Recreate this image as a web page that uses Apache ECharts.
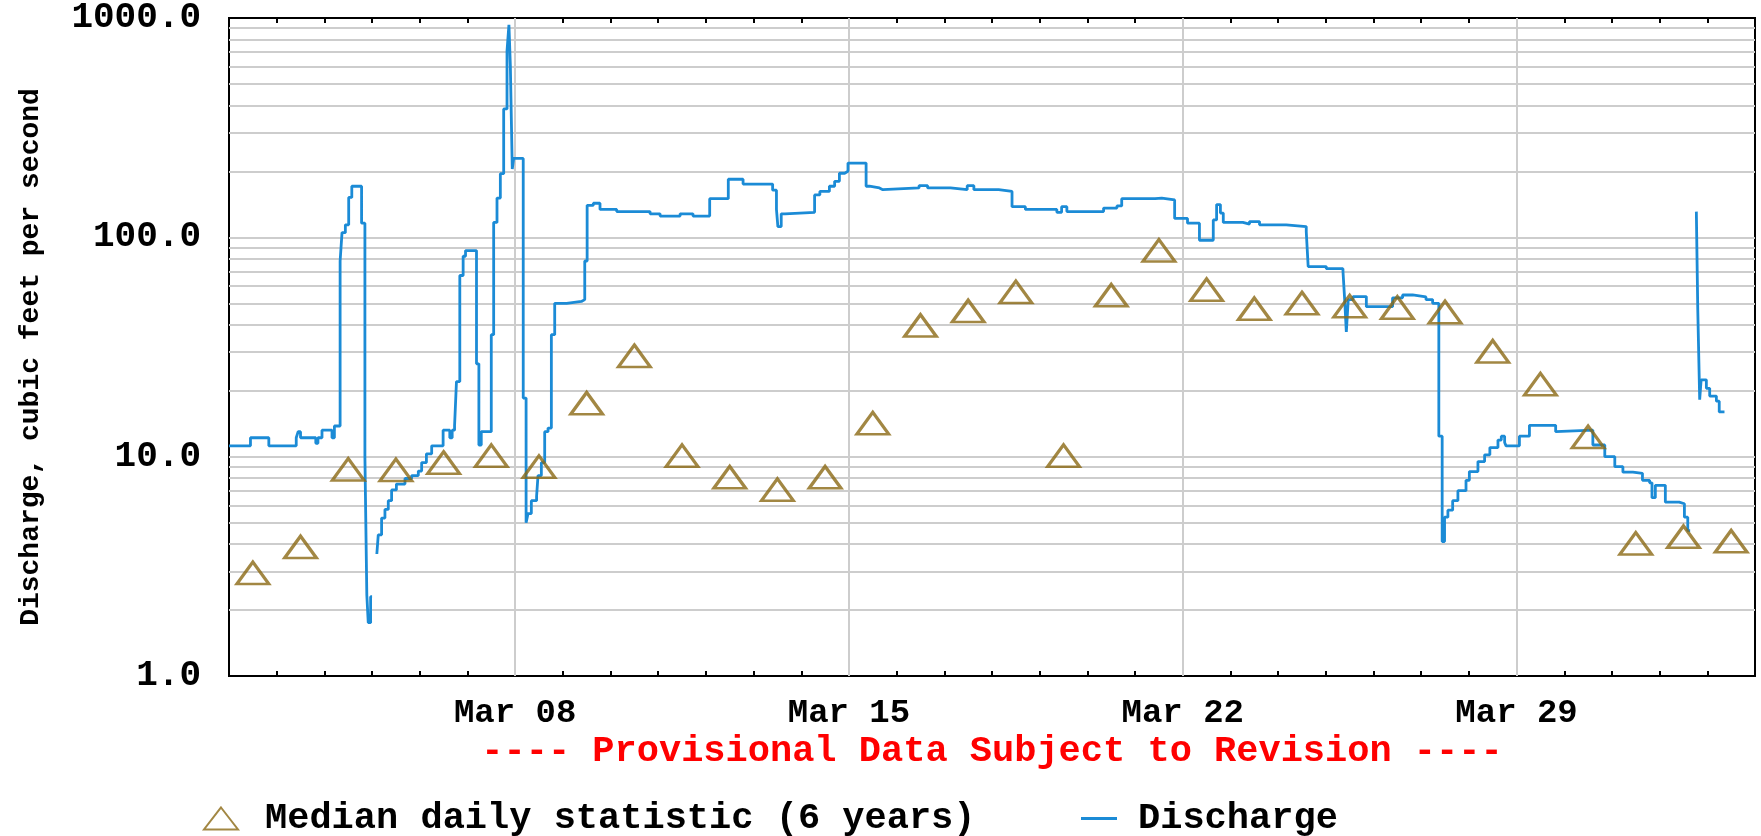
<!DOCTYPE html>
<html>
<head>
<meta charset="utf-8">
<script src="https://cdn.jsdelivr.net/npm/echarts@6/dist/echarts.min.js"></script>
<style>
  html, body { margin: 0; padding: 0; background: #fff; }
  #chart { width: 1761px; height: 836px; }
</style>
</head>
<body>
<div id="chart"></div>
<script>
// Days are counted from Mar 02 00:00
const xTickDays = [6, 13, 20, 27];
const xTickLabels = ['Mar 08', 'Mar 15', 'Mar 22', 'Mar 29'];
const yGridValues = [2,3,4,5,6,7,8,9,10,20,30,40,50,60,70,80,90,100,200,300,400,500,600,700,800,900];

// Median daily statistic (6 years), one per day, plotted at noon
const medianCfs = [2.95, 3.87, 8.74, 8.7, 9.39, 10.1, 9.0, 17.5, 28.8, 10.1, 8.05, 7.07, 8.05, 14.2,
  39.6, 46.1, 56.3, 10.1, 54.4, 87.1, 57.7, 47.2, 50.1, 48.5, 47.8, 45.6, 30.2, 21.4, 12.3, 4.02, 4.31, 4.11];

// Discharge (cfs), step values starting at each time
const dischargeDays = [0, 0.45, 0.835, 1.41, 1.45, 1.50, 1.82, 1.865, 1.95, 2.16, 2.21, 2.33, 2.37, 2.44, 2.51, 2.575,
  2.78, 2.85, 2.89, 2.92, 2.97, 3.0, 3.10, 3.13, 3.20, 3.27, 3.34, 3.41, 3.51, 3.69, 3.83, 3.97, 4.04, 4.14, 4.25,
  4.49, 4.63, 4.68, 4.73, 4.77, 4.84, 4.91, 4.96, 5.19, 5.24, 5.29, 5.50, 5.55, 5.62, 5.69, 5.76, 5.83, 5.87, 5.90,
  5.94, 5.97, 6.17, 6.23, 6.27, 6.34, 6.45, 6.48, 6.55, 6.62, 6.69, 6.76, 6.83, 7.08, 7.39, 7.46, 7.51, 7.64, 7.78,
  8.13, 8.83, 9.04, 9.46, 9.73, 10.08, 10.47, 10.78, 11.40, 11.48, 11.51, 11.58, 11.66, 12.28, 12.39, 12.59, 12.70,
  12.80, 12.91, 12.98, 13.36, 13.43, 13.64, 13.71, 14.47, 14.65, 15.13, 15.48, 15.62, 16.14, 16.42, 16.70, 17.36,
  17.46, 17.57, 18.34, 18.62, 18.72, 19.42, 19.56, 19.83, 20.10, 20.35, 20.64, 20.71, 20.79, 20.85, 21.26, 21.40,
  21.61, 22.17, 22.59, 22.63, 23.01, 23.36, 23.40, 23.43, 23.47, 23.57, 23.85, 24.40, 24.61, 24.82, 25.10, 25.24,
  25.37, 25.44, 25.49, 25.56, 25.66, 25.77, 25.94, 26.01, 26.19, 26.33, 26.44, 26.61, 26.68, 26.75, 26.78, 27.06,
  27.27, 27.82, 27.86, 28.60, 28.85, 29.06, 29.23, 29.44, 29.64, 29.79, 29.84, 29.91, 30.12, 30.41, 30.52, 30.59,
  30.64, 30.77, 30.80, 30.84, 30.87, 30.98, 31.05, 31.19, 31.25, 31.36];
const dischargeCfs = [11.2, 12.2, 11.2, 12.2, 13.0, 12.2, 11.5, 12.2, 13.2, 12.2, 13.8, 78, 105, 114, 152, 171,
  116, 10, 2.34, 1.75, 2.3, null, 3.6, 4.4, 5.25, 5.75, 6.3, 7.05, 7.5, 7.95, 8.2, 8.6, 9.4, 10.3, 11.2,
  13.2, 12.2, 13.2, 13.8, 22, 67, 82, 87, 26.5, 11.3, 13, 36, 117, 151, 195, 385, 708, 930, 605,
  205, 229, 18.5, 5.0, 5.5, 6.3, 6.6, 8.2, 9.4, 13, 13.5, 36, 50, 51, 52, 78, 140, 143, 134,
  131, 128, 125, 128, 125, 150, 184, 175, 164, 134, 112, 128, 130, 156, 162, 171, 180,
  196, 200, 218, 171, 168, 165, 168, 172, 168, 165, 172, 165, 162, 138, 134, 130,
  138, 131, 136, 139, 150, 151, 148, 122, 116, 97, 120, 141, 129, 117, 115, 118,
  114, 112, 106, 73.6, 72, 70, 50, 37, 52, 53.7, 48.3, 53, 54.6, 53.5, 52, 50,
  12.4, 4.1, 5.3, 5.7, 6.3, 7.0, 7.8, 8.55, 9.5, 10.2, 11, 11.9, 12.4, 11.6, 11.2, 12.4,
  13.9, 13.0, 13.2, 11.3, 10, 9.0, 8.5, 8.4, 7.8, 7.6, 6.5, 7.4, 6.2, 6.1, 5.3, 4.6,
  null, 131, 46.7, 18.2, 22.4, 20.5, 18.9, 17.9, 16, 16];

const FONT = 'Liberation Mono';
const chart = echarts.init(document.getElementById('chart'), null, { renderer: 'canvas' });

const medianData = medianCfs.map((v, i) => [i + 0.5, v]);
const dischargeData = dischargeDays.map((d, i) => [d, dischargeCfs[i]]);

const legendText = { color: '#000', fontFamily: FONT, fontWeight: 'bold', fontSize: 37 };

const option = {
  animation: false,
  backgroundColor: '#fff',
  grid: {
    left: 229, right: 6, top: 18, bottom: 160,
    show: true, borderColor: '#000', borderWidth: 2, backgroundColor: 'transparent'
  },
  xAxis: [
    {
      type: 'value', min: 0, max: 32, interval: 1, position: 'bottom',
      axisLine: { show: false },
      axisTick: { show: true, inside: true, length: 5, lineStyle: { color: '#000', width: 2 } },
      axisLabel: {
        margin: 20, color: '#000', fontFamily: FONT, fontWeight: 'bold', fontSize: 34,
        formatter: v => { const k = xTickDays.indexOf(Math.round(v)); return k >= 0 ? xTickLabels[k] : ''; }
      },
      splitLine: { show: false }
    },
    {
      type: 'value', min: 0, max: 32, interval: 1, position: 'top',
      axisLine: { show: false },
      axisTick: { show: true, inside: true, length: 5, lineStyle: { color: '#000', width: 2 } },
      axisLabel: { show: false },
      splitLine: { show: false }
    }
  ],
  yAxis: {
    type: 'log', logBase: 10, min: 1, max: 1000,
    axisLine: { show: false },
    axisTick: { show: false },
    splitLine: { show: false },
    axisLabel: {
      margin: 28, color: '#000', fontFamily: FONT, fontWeight: 'bold', fontSize: 36,
      formatter: v => Number(v).toFixed(1)
    }
  },
  legend: [
    {
      left: 198, top: 795,
      itemWidth: 34, itemHeight: 22,
      textStyle: Object.assign({ padding: [0, 0, 0, 22] }, legendText),
      data: ['Median daily statistic (6 years)']
    },
    {
      left: 1076, top: 795,
      itemWidth: 36, itemHeight: 3,
      textStyle: Object.assign({ padding: [0, 0, 0, 16] }, legendText),
      data: [{ name: 'Discharge', icon: 'rect' }]
    }
  ],
  graphic: [
    {
      type: 'text', x: 992, y: 752,
      style: {
        text: '---- Provisional Data Subject to Revision ----',
        fill: '#ff0000', font: 'bold 37px "Liberation Mono"',
        textAlign: 'center', textVerticalAlign: 'middle'
      }
    },
    {
      type: 'text', x: 31, y: 357, rotation: Math.PI / 2,
      style: {
        text: 'Discharge, cubic feet per second',
        fill: '#000', font: 'bold 28px "Liberation Mono"',
        textAlign: 'center', textVerticalAlign: 'middle'
      }
    }
  ],
  series: [
    {
      name: 'grid', type: 'line', data: [], z: 1, silent: true,
      markLine: {
        silent: true, symbol: 'none', label: { show: false }, animation: false,
        lineStyle: { color: '#cdcdcd', width: 2, type: 'solid' },
        data: yGridValues.map(v => ({ yAxis: v })).concat(xTickDays.map(d => ({ xAxis: d })))
      }
    },
    {
      name: 'Discharge', type: 'line', step: 'end', data: dischargeData, z: 10,
      symbol: 'none', connectNulls: false,
      lineStyle: { color: '#1b8bd6', width: 2.8 },
      itemStyle: { color: '#1b8bd6' }
    },
    {
      name: 'Median daily statistic (6 years)', type: 'scatter', data: medianData, z: 11,
      symbol: 'triangle', symbolSize: [32, 22],
      itemStyle: { color: 'rgba(255,255,255,0)', borderColor: '#8b6914', borderWidth: 3 }
    }
  ]
};
chart.setOption(option);
</script>
</body>
</html>
